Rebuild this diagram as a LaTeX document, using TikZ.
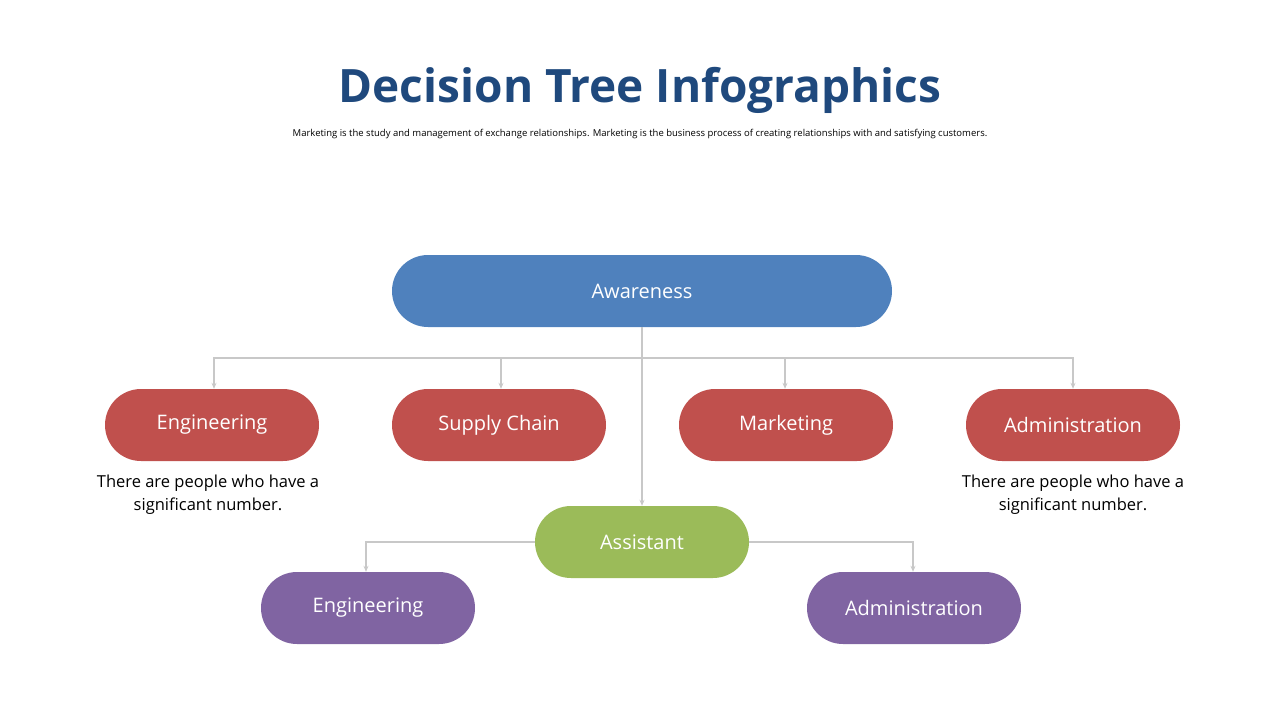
\documentclass[tikz,border=0pt]{standalone}
\usepackage{fontspec}
\setmainfont{Open Sans}
\usetikzlibrary{arrows.meta}
\definecolor{tblue}{HTML}{1F497D}
\definecolor{nblue}{HTML}{4F81BD}
\definecolor{nred}{HTML}{C0504D}
\definecolor{ngreen}{HTML}{9BBB59}
\definecolor{npurp}{HTML}{8064A2}
\definecolor{lgray}{HTML}{C8C8C8}
\begin{document}
\begin{tikzpicture}[x=1pt,y=-1pt,
  pill/.style={rounded corners=36pt,minimum width=214pt,minimum height=72pt,inner sep=0pt,text=white,font=\fontsize{20}{24}\selectfont},
  conn/.style={draw=lgray,line width=1.5pt,-{Stealth[length=6pt,width=5pt]}},
  note/.style={align=center,font=\fontsize{16.5}{23}\selectfont}]
\useasboundingbox (0,0) rectangle (1280,720);
\node[text=tblue,font=\fontsize{46}{50}\selectfont\bfseries] (title) at (640,90) {Decision Tree Infographics};
\node[font=\fontsize{9.5}{11}\selectfont] (sub) at (640,134) {Marketing is the study and management of exchange relationships. Marketing is the business process of creating relationships with and satisfying customers.};
\node[pill,fill=nblue,minimum width=500pt] (aw) at (642,291) {Awareness};
\node[pill,fill=nred] (e1) at (212,425) {Engineering};
\node[pill,fill=nred] (sc) at (499,425) {Supply Chain};
\node[pill,fill=nred] (mk) at (786,425) {Marketing};
\node[pill,fill=nred] (ad) at (1073,425) {Administration};
\node[pill,fill=ngreen] (as) at (642,542) {Assistant};
\node[pill,fill=npurp] (e2) at (368,608) {Engineering};
\node[pill,fill=npurp] (ad2) at (914,608) {Administration};
\node[note] (n1) at (208,495) {There are people who have a\\significant number.};
\node[note] (n2) at (1073,495) {There are people who have a\\significant number.};
\coordinate (j) at (642,358);
\draw[draw=lgray,line width=1.5pt] (aw.south) -- (j);
\draw[conn] (j) -| ([xshift=2pt]e1.north);
\draw[conn] (j) -| ([xshift=2pt]sc.north);
\draw[conn] (j) -| ([xshift=-1pt]mk.north);
\draw[conn] (j) -| (ad.north);
\draw[conn] (j) -- (as.north);
\draw[conn] (as.west) -| ([xshift=-2pt]e2.north);
\draw[conn] (as.east) -| ([xshift=-1pt]ad2.north);
\end{tikzpicture}
\end{document}
